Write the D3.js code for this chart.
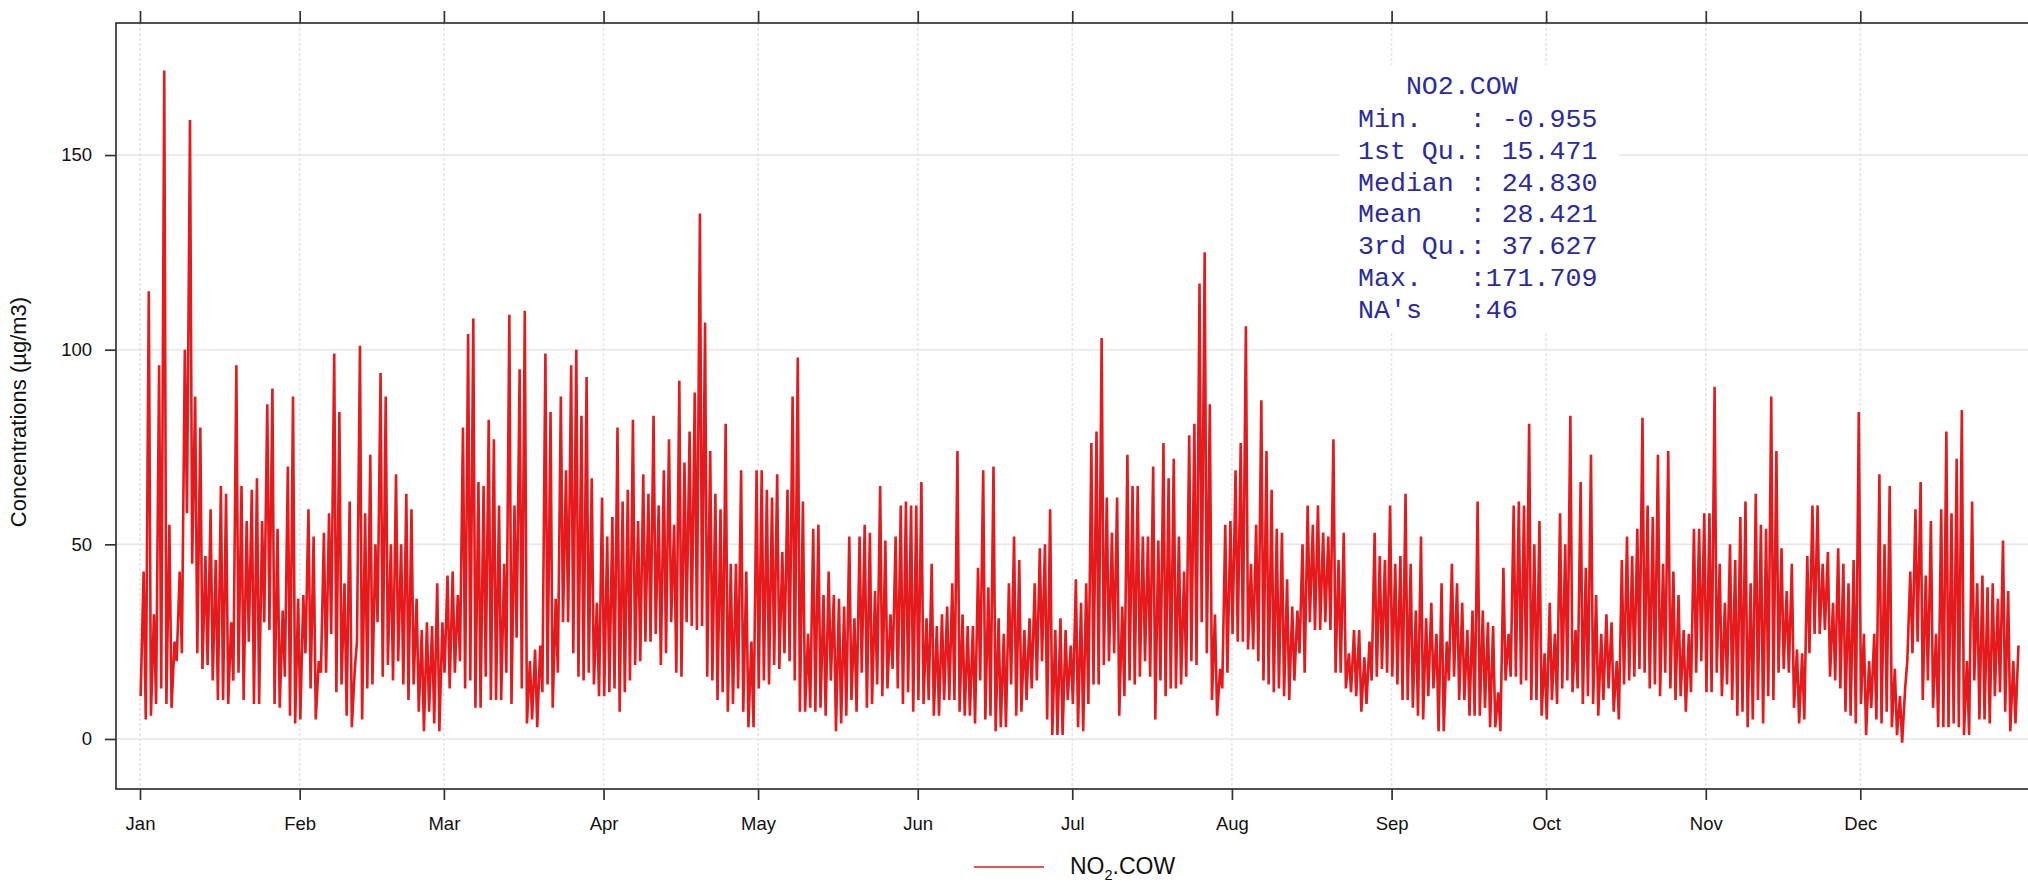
<!DOCTYPE html>
<html><head><meta charset="utf-8">
<script src="https://cdn.jsdelivr.net/npm/d3@7"></script>
<style>
html,body{margin:0;padding:0;background:#fff;}
svg{display:block;}
</style></head><body>
<svg id="chart" width="2028" height="883"></svg>
<script>
// ---- data (daily low / high of hourly NO2 at COW) ----
const monthLabels = ["Jan","Feb","Mar","Apr","May","Jun","Jul","Aug","Sep","Oct","Nov","Dec"];
const yTicks = [0, 50, 100, 150];

const lowJan  = [11,5,6,9,13,9,8,20,22,58,45,22,18,19,15,10,10,9,15,17,10,25,9,9,30,28,9,8,16,6,4];
const highJan = [43,115,32,96,171.7,55,25,43,100,159,88,80,47,59,46,65,63,30,96,65,56,64,67,56,86,90,54,33,70,88,36];
const lowFeb  = [5,22,13,5,17,17,27,12,14,6,3,25,5,13,14,30,16,19,15,20,14,10,14,7,2,7,4,2];
const highFeb = [37,59,52,20,53,58,99,84,40,61,18,101,58,73,50,94,88,50,68,50,63,59,36,28,30,29,40,30];
const lowMar  = [17,13,17,20,13,15,8,8,16,10,10,10,17,9,26,13,4,5,3,12,14,8,17,30,30,22,16,15,17,14,11];
const highMar = [42,43,37,80,104,108,66,65,82,77,60,45,109,60,95,110,20,23,24,99,84,36,88,69,96,100,83,93,67,35,62];
const lowApr  = [11,12,13,7,12,15,19,20,25,25,27,19,22,30,17,16,30,29,28,29,16,15,10,12,7,9,13,7,3,3];
const highApr = [52,57,80,61,64,82,56,68,63,83,60,69,77,55,92,71,79,89,135,107,74,63,59,81,45,45,69,43,25,69];
const lowMay  = [13,15,14,19,18,22,20,15,7,7,8,7,8,6,15,2,4,6,10,7,17,8,9,14,11,13,18,13,9,12,7];
const highMay = [69,64,62,68,48,64,88,98,61,27,54,55,37,43,37,36,34,52,31,52,55,53,38,65,51,32,52,60,61,60,60];
const lowJun  = [10,9,10,6,6,10,10,10,7,6,6,4,15,5,6,2,3,3,14,6,7,10,13,15,20,5,1,1,1,10];
const highJun = [66,31,45,29,32,34,40,74,32,29,29,44,69,39,70,31,27,40,52,46,28,31,40,49,50,59,28,31,28,24];
const lowJul  = [9,3,2,9,14,14,19,20,22,6,11,15,14,16,20,16,5,15,11,13,13,14,16,20,19,30,22,10,6,13,17];
const highJul = [41,35,40,76,79,103,62,53,62,34,73,65,65,52,52,70,51,76,67,72,52,43,78,81,117,125,86,32,18,55,56];
const lowAug  = [27,25,25,23,23,20,15,14,12,13,11,10,15,22,17,30,28,28,30,28,17,17,13,12,11,7,9,15,16,18,17];
const highAug = [69,76,106,45,55,87,74,64,54,53,41,34,33,50,60,55,60,53,52,77,46,53,22,28,28,21,25,53,47,46,60];
const lowSep  = [16,14,10,10,8,6,5,11,13,2,2,15,16,10,10,6,6,6,8,3,3,2,15,16,16,14,15,10,10,6];
const highSep = [45,47,63,45,33,52,31,35,27,40,25,45,40,35,28,33,61,33,30,29,12,44,27,60,61,60,81,50,56,22];
const lowOct  = [5,10,9,13,15,12,13,9,11,9,6,10,13,7,5,14,15,16,18,17,13,14,11,17,13,10,11,7,12,17,20];
const highOct = [35,27,58,50,83,28,66,44,73,37,27,32,30,20,46,52,47,54,82.5,60,57,73,45,74,43,37,28,27,54,54,58];
const lowNov  = [12,12,17,11,14,10,6,7,3,5,10,4,11,10,17,18,17,8,4,5,22,27,27,28,16,15,13,7,6,4];
const highNov = [58,90.5,45,35,50,46,57,61,40,63,55,54,88,74,49,38,45,23,22,47,60,60,45,48,35,49,45,40,46,84];
const lowDec  = [9,1,8,5,4,7,3,1,-0.955,20,22,25,10,15,8,3,3,3,4,3,1,1,15,5,5,4,11,12,7,2,4];
const highDec = [27,20,27,68,50,65,18,11,13,43,59,66,42,56,27,59,79,58,72,84.5,20,61,40,42,39,40,36,51,38,20,24];

const seriesName = "NO2.COW";
const statNames  = ["Min.", "1st Qu.", "Median", "Mean", "3rd Qu.", "Max.", "NA's"];
const statValues = [-0.955, 15.471, 24.830, 28.421, 37.627, 171.709];
const naCount    = 46;

// ---- build series ----
const year = 2019;
const lows  = [lowJan,lowFeb,lowMar,lowApr,lowMay,lowJun,lowJul,lowAug,lowSep,lowOct,lowNov,lowDec];
const highs = [highJan,highFeb,highMar,highApr,highMay,highJun,highJul,highAug,highSep,highOct,highNov,highDec];
const points = [];
lows.forEach((arr, m) => {
  arr.forEach((v, i) => {
    points.push({t: new Date(Date.UTC(year, m, i + 1, 3)), v: v});
    points.push({t: new Date(Date.UTC(year, m, i + 1, 17)), v: highs[m][i]});
  });
});

// ---- layout ----
const W = 2028, H = 883;
const pLeft = 116, pTop = 23, pBottom = 789;
const pxPerDay = 5.1506;
const padDays = 24 / pxPerDay;
const dayMs = 864e5;
const start = Date.UTC(year, 0, 1);
const dataEnd = start + 364.96 * dayMs;
const x = d3.scaleUtc()
  .domain([new Date(start - padDays * dayMs), new Date(dataEnd + padDays * dayMs)])
  .range([pLeft, pLeft + (364.96 + 2 * padDays) * pxPerDay]);
const pRight = x.range()[1];
const y = d3.scaleLinear().domain([-12.85, 183.92]).range([pBottom, pTop]);

const svg = d3.select("#chart");
svg.append("rect").attr("width", W).attr("height", H).attr("fill", "#fff");

const monthTicks = d3.utcMonth.range(new Date(start), new Date(Date.UTC(year + 1, 0, 1)));

// grid
const grid = svg.append("g");
grid.selectAll("line.h").data(yTicks).join("line")
  .attr("x1", pLeft).attr("x2", pRight)
  .attr("y1", d => y(d)).attr("y2", d => y(d))
  .attr("stroke", "#e6e6e6").attr("stroke-width", 1.5);
grid.selectAll("line.v").data(monthTicks).join("line")
  .attr("x1", d => x(d)).attr("x2", d => x(d))
  .attr("y1", pTop).attr("y2", pBottom)
  .attr("stroke", "#e4e4e4").attr("stroke-width", 1.5)
  .attr("stroke-dasharray", "3,2");

// data line
svg.append("clipPath").attr("id", "clip").append("rect")
  .attr("x", pLeft).attr("y", pTop).attr("width", pRight - pLeft).attr("height", pBottom - pTop);
const line = d3.line().x(d => x(d.t)).y(d => y(d.v));
svg.append("path").datum(points)
  .attr("clip-path", "url(#clip)")
  .attr("d", line)
  .attr("fill", "none")
  .attr("stroke", "#e41a1c")
  .attr("stroke-width", 2.6)
  .attr("stroke-linejoin", "bevel");

// frame
svg.append("rect").attr("x", pLeft).attr("y", pTop)
  .attr("width", pRight - pLeft).attr("height", pBottom - pTop)
  .attr("fill", "none").attr("stroke", "#333").attr("stroke-width", 1.7);

const axisFont = "'Liberation Sans', Arial, sans-serif";

// bottom axis
const xAxis = d3.axisBottom(x).tickValues(monthTicks)
  .tickFormat((d, i) => monthLabels[i]).tickSizeInner(11).tickSizeOuter(0).tickPadding(17);
const gx = svg.append("g").attr("transform", `translate(0,${pBottom})`).call(xAxis);
gx.select(".domain").remove();
gx.selectAll(".tick line").attr("stroke", "#333").attr("stroke-width", 1.7);
gx.selectAll(".tick text").attr("font-family", axisFont).attr("font-size", 18.5).attr("fill", "#111");

// top axis (ticks only)
const xAxisTop = d3.axisTop(x).tickValues(monthTicks).tickFormat("").tickSizeInner(12).tickSizeOuter(0);
const gxt = svg.append("g").attr("transform", `translate(0,${pTop})`).call(xAxisTop);
gxt.select(".domain").remove();
gxt.selectAll(".tick line").attr("stroke", "#333").attr("stroke-width", 1.7);

// left axis
const yAxis = d3.axisLeft(y).tickValues(yTicks).tickSizeInner(11).tickSizeOuter(0).tickPadding(13);
const gy = svg.append("g").attr("transform", `translate(${pLeft},0)`).call(yAxis);
gy.select(".domain").remove();
gy.selectAll(".tick line").attr("stroke", "#333").attr("stroke-width", 1.7);
gy.selectAll(".tick text").attr("font-family", axisFont).attr("font-size", 18.5).attr("fill", "#111");

// y title
svg.append("text")
  .attr("transform", `translate(26,412) rotate(-90)`)
  .attr("text-anchor", "middle")
  .attr("font-family", axisFont).attr("font-size", 22).attr("fill", "#111")
  .text("Concentrations (µg/m3)");

// stats box
const box = svg.append("g");
box.append("rect").attr("x", 1340).attr("y", 65).attr("width", 279).attr("height", 267).attr("fill", "#fff");
const monoFont = "'Liberation Mono', 'Courier New', monospace";
const fmt = v => v.toFixed(3).padStart(7, " ");
const statLines = statNames.map((n, i) => n.padEnd(7, " ") + ":" + (i < statValues.length ? fmt(statValues[i]) : String(naCount)));
const textLines = ["   " + seriesName].concat(statLines);
box.selectAll("text").data(textLines).join("text")
  .attr("x", 1358)
  .attr("y", (d, i) => 94 + (i === 0 ? 0 : 32.7 + (i - 1) * 31.9))
  .attr("xml:space", "preserve")
  .style("white-space", "pre")
  .attr("font-family", monoFont).attr("font-size", 26.6)
  .attr("fill", "#2a2aa2")
  .text(d => d);

// legend
const leg = svg.append("g");
leg.append("line").attr("x1", 974).attr("x2", 1044).attr("y1", 867).attr("y2", 867)
  .attr("stroke", "#e41a1c").attr("stroke-width", 1.6);
const lt = leg.append("text").attr("x", 1070).attr("y", 874)
  .attr("font-family", axisFont).attr("font-size", 23).attr("fill", "#111");
lt.append("tspan").text("NO");
lt.append("tspan").attr("font-size", 14.5).attr("dy", 5.5).text("2");
lt.append("tspan").attr("dy", -5.5).text(".COW");
</script>
</body></html>
